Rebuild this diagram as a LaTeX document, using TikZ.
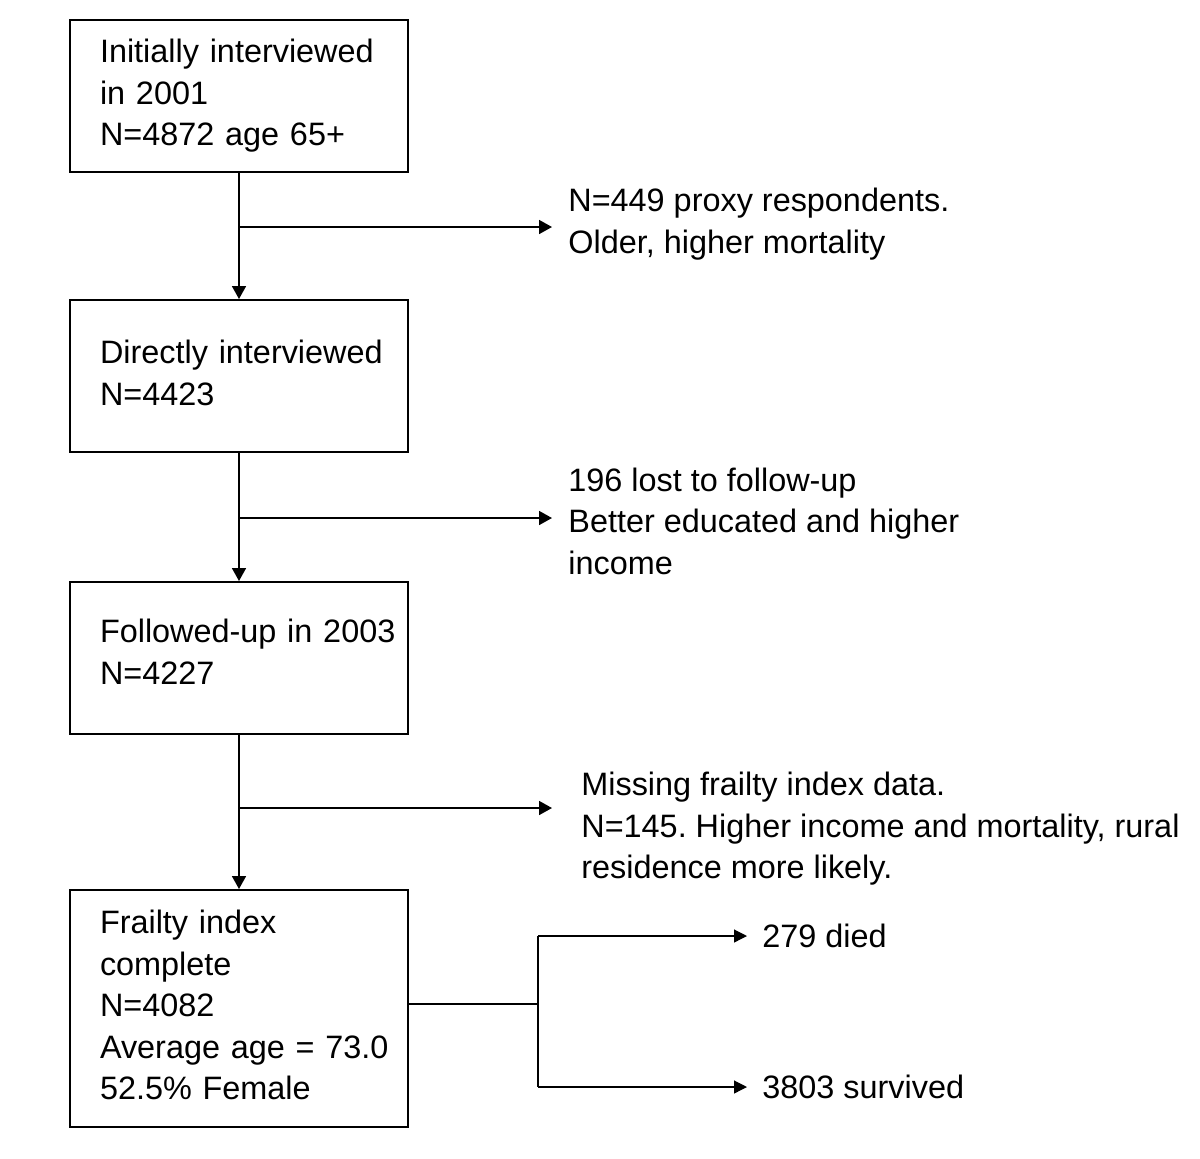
\documentclass[tikz,border=0pt]{standalone}
\usepackage{fontspec}
\setmainfont{Liberation Sans}
\usetikzlibrary{arrows.meta}
\newcommand{\boxlines}[1]{\begin{tabular}{@{}l@{}}#1\end{tabular}}
\frenchspacing
\begin{document}
\begin{tikzpicture}[x=0.5pt,y=-0.5pt,
	every node/.style={font=\fontsize{16.2pt}{20.75pt}\selectfont},
	stagebox/.style={draw, line width=1pt, minimum width=169pt, minimum height=76pt,
		text width=139pt, inner xsep=15pt, inner ysep=0pt, align=left},
	note/.style={anchor=west, inner sep=0pt, align=left},
	flow/.style={line width=0.85pt, -{Triangle[length=6.5pt,width=7pt]}},
	split/.style={line width=0.6pt}]
	\useasboundingbox (0,0) rectangle (1200,1158);
	\node[stagebox] (init) at (239,96) {\boxlines{Initially interviewed\\in 2001\\N=4872 age 65+}};
	\node[stagebox] (direct) at (239,376) {\boxlines{Directly interviewed\\N=4423}};
	\node[stagebox] (followed) at (239,658) {\boxlines{Followed-up in 2003\\N=4227}\vspace*{3pt}};
	\node[stagebox, minimum height=118.5pt] (frailty) at (239,1008.5)
		{\boxlines{Frailty index\\complete\\N=4082\\Average age = 73.0\\52.5\% Female}};
	\node[note] (proxy) at (568,224) {N=449 proxy respondents.\\Older, higher mortality};
	\node[note] (lost) at (568,521) {196 lost to follow-up\\Better educated and higher\\income};
	\node[note] (missing) at (581,829) {Missing frailty index data.\\N=145. Higher income and mortality, rural\\residence more likely.};
	\node[note] (died) at (762,936) {279 died};
	\node[note] (survived) at (762,1087) {3803 survived};
	\coordinate (b1) at (239,227);
	\coordinate (b2) at (239,518);
	\coordinate (b3) at (239,808);
	\coordinate (b4) at (538,1004);
	\draw[flow] (init) -- (direct);
	\draw[flow] (direct) -- (followed);
	\draw[flow] (followed) -- (frailty);
	\draw[flow] (b1) -- ([xshift=-8pt]proxy.west |- b1);
	\draw[flow] (b2) -- ([xshift=-8pt]lost.west |- b2);
	\draw[flow] (b3) -- ([xshift=-14.5pt]missing.west |- b3);
	\draw[split] (frailty.east |- b4) -- (b4);
	\draw[split] (b4 |- died.west) -- (b4 |- survived.west);
	\draw[split, -{Triangle[length=6.5pt,width=6.5pt]}] (b4 |- died.west) -- ([xshift=-7.5pt]died.west);
	\draw[split, -{Triangle[length=6.5pt,width=6.5pt]}] (b4 |- survived.west) -- ([xshift=-7.5pt]survived.west);
\end{tikzpicture}
\end{document}
